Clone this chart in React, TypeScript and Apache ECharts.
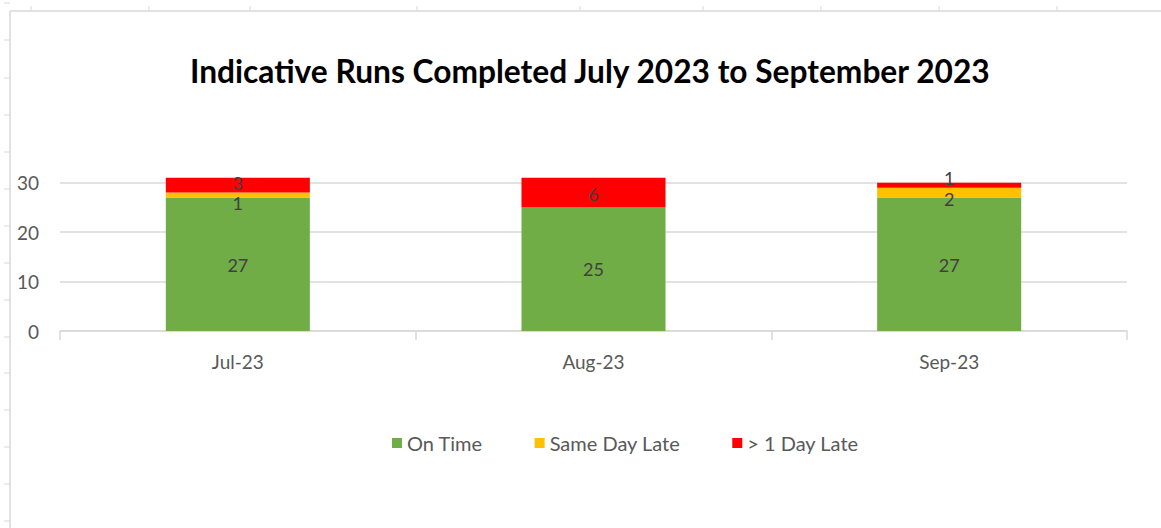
import React, { useEffect, useRef } from "react";
import * as echarts from "echarts";

const categories = ["Jul-23", "Aug-23", "Sep-23"];
const seriesNames = ["On Time", "Same Day Late", "> 1 Day Late"];
const onTime = [27, 25, 27];
const sameDayLate = [1, 0, 2];
const overOneDayLate = [3, 6, 1];
const yTicks = [0, 10, 20, 30];

const colors = ["#70AD47", "#FFC000", "#FF0000"];
// label nudges (px) per series / category, mimicking Excel's overlap avoidance
const labelNudges = [
  [1, 0, 1],
  [8, 0, 6],
  [-2, 1, -7],
];

const sheetColTicks = [31, 149, 250, 417, 580, 703, 821, 939, 1057];
const sheetRowTicks = [3, 40, 78, 115, 152, 189, 226, 263, 300, 337, 373, 410, 447, 484, 521];

const FONT = "Lato";
const LABEL_SIZE = 19;

export default function App() {
  const ref = useRef<HTMLDivElement>(null);
  useEffect(() => {
    if (!ref.current) return;
    const chart = echarts.init(ref.current, undefined, { renderer: "svg" });
    const values = [onTime, sameDayLate, overOneDayLate];

    const graphics: any[] = [];
    graphics.push({
      type: "line",
      shape: { x1: 10, y1: 11, x2: 1161, y2: 11 },
      style: { stroke: "#d9d9d9", lineWidth: 1.5 },
      silent: true,
    });
    graphics.push({
      type: "line",
      shape: { x1: 10, y1: 11, x2: 10, y2: 528 },
      style: { stroke: "#d9d9d9", lineWidth: 1.5 },
      silent: true,
    });
    sheetColTicks.forEach((x) =>
      graphics.push({
        type: "line",
        shape: { x1: x, y1: 6, x2: x, y2: 11 },
        style: { stroke: "#d9d9d9", lineWidth: 1 },
        silent: true,
      })
    );
    sheetRowTicks.forEach((y) =>
      graphics.push({
        type: "line",
        shape: { x1: 4, y1: y, x2: 10, y2: y },
        style: { stroke: "#d9d9d9", lineWidth: 1 },
        silent: true,
      })
    );

    chart.setOption({
      animation: false,
      backgroundColor: "#ffffff",
      textStyle: { fontFamily: FONT },
      title: {
        text: "Indicative Runs Completed July 2023 to September 2023",
        left: 185,
        top: 50,
        textStyle: {
          fontFamily: FONT,
          fontWeight: "bold",
          fontSize: 31.7,
          color: "#000000",
        },
      },
      graphic: graphics,
      legend: {
        left: 387,
        top: 428,
        itemWidth: 10,
        itemHeight: 10,
        itemGap: 52,
        icon: "rect",
        data: seriesNames,
        textStyle: { fontFamily: FONT, fontSize: 20, color: "#595959" },
      },
      grid: { left: 60, right: 34, top: 158, bottom: 197, containLabel: false },
      xAxis: {
        type: "category",
        data: categories,
        axisLine: { lineStyle: { color: "#d9d9d9", width: 1.5 } },
        axisTick: { show: true, length: 9, lineStyle: { color: "#d9d9d9", width: 1.5 } },
        axisLabel: { fontFamily: FONT, fontSize: LABEL_SIZE, color: "#595959", margin: 21 },
        splitLine: { show: false },
      },
      yAxis: {
        type: "value",
        min: 0,
        max: 35,
        interval: 10,
        axisLine: { show: false },
        axisTick: { show: false },
        axisLabel: {
          fontFamily: FONT,
          fontSize: LABEL_SIZE,
          color: "#595959",
          margin: 21,
          showMaxLabel: false,
          formatter: (v: number) => (yTicks.includes(v) ? String(v) : ""),
        },
        splitLine: { show: true, showMaxLine: false, lineStyle: { color: "#d9d9d9", width: 1.5 } },
      },
      series: seriesNames.map((name, si) => ({
        name,
        type: "bar",
        stack: "total",
        barWidth: "40.5%",
        itemStyle: { color: colors[si] },
        data: values[si].map((v, ci) => ({
          value: v,
          label: { offset: [0, labelNudges[si][ci]] },
        })),
        label: {
          show: true,
          position: "inside",
          fontFamily: FONT,
          fontSize: 18,
          lineHeight: 14,
          color: "#404040",
          formatter: (p: any) => (p.value ? String(p.value) : ""),
        },
      })),
    });
    return () => chart.dispose();
  }, []);
  return (
    <div
      ref={ref}
      style={{ position: "absolute", left: 0, top: 0, width: 1161, height: 528, background: "#fff" }}
    />
  );
}
